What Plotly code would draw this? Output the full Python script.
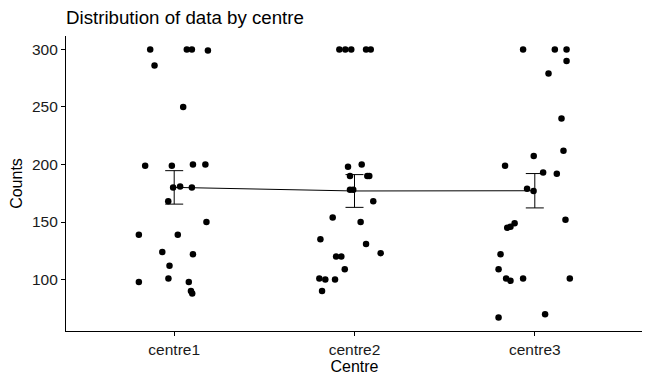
import numpy as np
import plotly.graph_objects as go

categories = ["centre1", "centre2", "centre3"]

centre1_counts = [300, 286, 300, 300, 299, 250, 199, 199, 200, 200, 180, 181, 180, 168, 150,
                  139, 139, 124, 122, 112, 98, 101, 98, 90, 88]
centre1_jitter = [-0.133, -0.109, 0.070, 0.098, 0.187, 0.050, -0.161, -0.013, 0.104, 0.173,
                  -0.006, 0.033, 0.098, -0.033, 0.179, -0.196, 0.020, -0.066, 0.104, -0.026,
                  -0.196, -0.032, 0.081, 0.093, 0.100]

centre2_counts = [300, 300, 300, 300, 300, 198, 200, 190, 190, 190, 178, 178, 168, 154, 150,
                  135, 131, 123, 120, 120, 109, 101, 100, 100, 90]
centre2_jitter = [-0.084, -0.051, -0.018, 0.064, 0.090, -0.036, 0.040, -0.025, 0.071, 0.082,
                  -0.025, -0.007, 0.104, -0.121, 0.034, -0.189, 0.064, 0.145, -0.102, -0.073,
                  -0.054, -0.195, -0.162, -0.108, -0.180]

centre3_counts = [300, 300, 300, 290, 279, 240, 212, 207.5, 199, 193, 192, 179, 177, 152, 149,
                  146, 145, 122, 109, 101, 99, 101, 101, 70, 67]
centre3_jitter = [-0.065, 0.111, 0.176, 0.176, 0.076, 0.148, 0.159, -0.006, -0.165, 0.046,
                  0.122, -0.043, -0.007, 0.170, -0.112, -0.135, -0.153, -0.190, -0.201, -0.159,
                  -0.135, -0.065, 0.194, 0.057, -0.201]

y_ticks = [100, 150, 200, 250, 300]

groups = [centre1_counts, centre2_counts, centre3_counts]
jitters = [centre1_jitter, centre2_jitter, centre3_jitter]

fig = go.Figure()

# jittered points
px_all, py_all = [], []
for i, (vals, jit) in enumerate(zip(groups, jitters)):
    for v, j in zip(vals, jit):
        px_all.append(i + 1 + j)
        py_all.append(v)

fig.add_trace(go.Scatter(
    x=px_all, y=py_all, mode="markers",
    marker=dict(color="black", size=6.5, line=dict(width=0)),
    hoverinfo="y", showlegend=False))

# mean line and mean +/- SE error bars
means = [float(np.mean(g)) for g in groups]
ses = [float(np.std(g, ddof=1) / np.sqrt(len(g))) for g in groups]
xpos = [1, 2, 3]

fig.add_trace(go.Scatter(
    x=xpos, y=means, mode="lines",
    line=dict(color="black", width=1), showlegend=False, hoverinfo="skip"))

fig.add_trace(go.Scatter(
    x=xpos, y=means, mode="markers",
    marker=dict(size=0.1, color="black", opacity=0),
    error_y=dict(type="data", array=ses, visible=True, color="black",
                 thickness=1, width=9),
    showlegend=False, hoverinfo="skip"))

all_vals = centre1_counts + centre2_counts + centre3_counts
lo, hi = min(all_vals), max(all_vals)
pad = (hi - lo) * 0.05

W, H = 642, 377

fig.update_layout(
    width=W, height=H,
    margin=dict(l=58, r=7, t=28, b=54),
    paper_bgcolor="white", plot_bgcolor="white",
    font=dict(family="Liberation Sans, Arial, sans-serif", color="black"),
    title=dict(text="Distribution of data by centre", x=0, xref="paper", xanchor="left",
               y=1 - 9.5 / H, yref="container", yanchor="middle",
               font=dict(size=18.7, color="black")),
    xaxis=dict(range=[0.4, 3.6], tickvals=xpos, ticktext=categories,
               showgrid=False, zeroline=False, showline=True, linecolor="black", linewidth=1.2,
               ticks="outside", ticklen=4, tickcolor="black", tickwidth=1,
               tickfont=dict(size=15.5, color="#1a1a1a"),
               title=dict(text="Centre", font=dict(size=16, color="black"), standoff=4)),
    yaxis=dict(range=[lo - pad, hi + pad], tickvals=y_ticks,
               showgrid=False, zeroline=False, showline=True, linecolor="black", linewidth=1.2,
               ticks="outside", ticklen=4, tickcolor="black", tickwidth=1,
               tickfont=dict(size=15.5, color="#1a1a1a"),
               title=dict(text="Counts", font=dict(size=16, color="black"), standoff=6)),
)

fig.write_html("out.html")
